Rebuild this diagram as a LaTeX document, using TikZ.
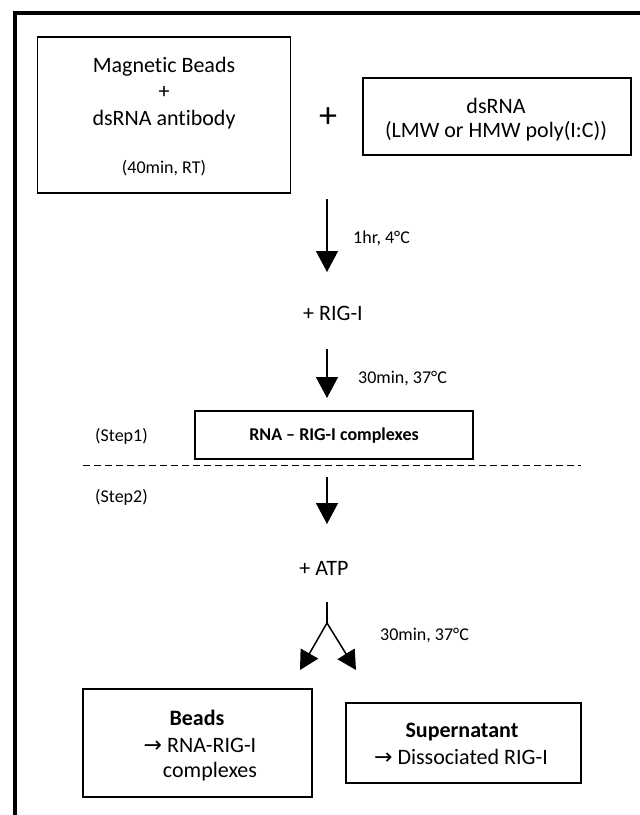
\documentclass[tikz,border=0pt]{standalone}
\usepackage{fontspec}
\setmainfont[Ligatures={NoCommon}]{Carlito}
\newfontfamily\arrowfont{DejaVu Sans}
\usetikzlibrary{arrows.meta}
\tikzset{
  big/.style={font=\fontsize{22}{27}\selectfont},
  small/.style={font=\fontsize{18}{22}\selectfont},
  smallbold/.style={font=\fontsize{18}{22}\selectfont\bfseries},
  bigbold/.style={font=\fontsize{22}{27}\selectfont\bfseries},
  txt/.style={inner sep=0pt, anchor=center},
  boxed/.style={draw, line width=1.9pt, inner sep=0pt},
  flow/.style={line width=1.5pt, -{Triangle[width=22pt,length=21pt]}},
  fork/.style={line width=1.5pt, -{Triangle[width=20pt,length=19pt]}},
}
\newcommand{\rarr}{{\arrowfont\fontsize{22}{22}\selectfont →}}
\begin{document}
\begin{tikzpicture}[x=1pt,y=-1pt]
\useasboundingbox (0,0) rectangle (640,815);
% frame (cropped: only top and left visible)
\draw[line width=4pt] (15,822) -- (15,13) -- (645,13);

% box 1
\node[boxed, minimum width=253pt, minimum height=156pt] (b1) at (164,115) {};
\node[txt, big] (b1a) at (164,67) {Magnetic Beads};
\node[txt, big] (b1b) at (164,92) {+};
\node[txt, big] (b1c) at (164,120) {dsRNA antibody};
\node[txt, small] (b1d) at (164,168) {(40min, RT)};

% plus
\node[txt, font=\fontsize{36}{40}\selectfont] (plus) at (328,118) {+};

% box 2
\node[boxed, minimum width=268pt, minimum height=77pt] (b2) at (497,116.5) {};
\node[txt, big] (b2a) at (496,106) {dsRNA};
\node[txt, big] (b2b) at (496,131) {(LMW or HMW poly(I:C))};

% arrow 1
\coordinate (a1s) at (327,199);
\coordinate (a1e) at (327,272);
\draw[flow] (a1s) -- (a1e);
\node[txt, small, anchor=west] (l1) at (353,238) {1hr, 4°C};

\node[txt, big] (rig) at (333,313) {+ RIG-I};

% arrow 2
\coordinate (a2s) at (327,349);
\coordinate (a2e) at (327,398);
\draw[flow] (a2s) -- (a2e);
\node[txt, small, anchor=west] (l2) at (358,378) {30min, 37°C};

% step1 box
\node[boxed, minimum width=278pt, minimum height=48pt] (s1) at (334,435) {};
\node[txt, smallbold] (s1t) at (334,436) {RNA – RIG-I complexes};
\node[txt, small, anchor=west] (st1) at (95,436) {(Step1)};

% dashed separator
\coordinate (d1) at (83,465.5);
\coordinate (d2) at (581,465.5);
\draw[line width=1.6pt, dash pattern=on 7pt off 4pt] (d1) -- (d2);

\node[txt, small, anchor=west] (st2) at (95,497) {(Step2)};

% arrow 3
\coordinate (a3s) at (327,477);
\coordinate (a3e) at (327,524);
\draw[flow] (a3s) -- (a3e);

\node[txt, big] (atp) at (324,568) {+ ATP};

% fork
\coordinate (fs) at (327,602);
\coordinate (fm) at (327,623);
\coordinate (fl) at (300,670);
\coordinate (fr) at (356,670);
\draw[line width=1.5pt] (fs) -- (fm);
\draw[fork] (fm) -- (fl);
\draw[fork] (fm) -- (fr);
\node[txt, small, anchor=west] (l3) at (380,635) {30min, 37°C};

% beads box
\node[boxed, minimum width=229pt, minimum height=108pt] (bb) at (197.5,743) {};
\node[txt, bigbold] (bba) at (197,718) {Beads};
\node[txt, big] (bbb) at (200,745) {\rarr\ RNA-RIG-I};
\node[txt, big] (bbc) at (210,772) {complexes};

% supernatant box
\node[boxed, minimum width=235pt, minimum height=80pt] (sb) at (463.5,743) {};
\node[txt, bigbold] (sba) at (462,732) {Supernatant};
\node[txt, big] (sbb) at (461,757) {\rarr\ Dissociated RIG-I};
\end{tikzpicture}
\end{document}
